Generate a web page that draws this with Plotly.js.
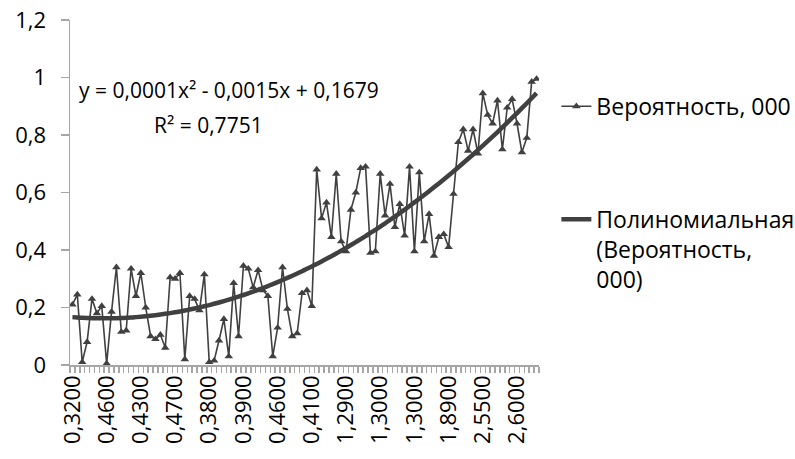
<!DOCTYPE html>
<html>
<head>
<meta charset="utf-8">
<script src="https://cdn.plot.ly/plotly-3.0.1.min.js"></script>
<style>html,body{margin:0;padding:0;background:#fff;}#chart{width:795px;height:459px;}</style>
</head>
<body>
<div id="chart"></div>
<script>
// Probability values, one per category (96 categories)
const probability = [
  0.21, 0.245, 0.01, 0.08, 0.23, 0.18, 0.205, 0.005, 0.185, 0.34,
  0.115, 0.12, 0.335, 0.24, 0.32, 0.20, 0.10, 0.09, 0.105, 0.06,
  0.305, 0.30, 0.32, 0.02, 0.24, 0.23, 0.19, 0.315, 0.01, 0.015,
  0.085, 0.16, 0.03, 0.285, 0.10, 0.345, 0.335, 0.27, 0.33, 0.26,
  0.24, 0.03, 0.13, 0.34, 0.195, 0.10, 0.11, 0.25, 0.26, 0.205,
  0.68, 0.51, 0.565, 0.445, 0.665, 0.43, 0.395, 0.54, 0.60, 0.685,
  0.69, 0.39, 0.395, 0.665, 0.52, 0.63, 0.48, 0.56, 0.45, 0.69,
  0.395, 0.67, 0.43, 0.525, 0.38, 0.445, 0.455, 0.41, 0.595, 0.775,
  0.82, 0.745, 0.82, 0.735, 0.945, 0.87, 0.84, 0.92, 0.75, 0.895,
  0.925, 0.84, 0.74, 0.79, 0.985, 0.995
];
// Category tick labels shown (every 7th category)
const tickLabels = ['0,3200','0,4600','0,4300','0,4700','0,3800','0,3900','0,4600',
                    '0,4100','1,2900','1,3000','1,3000','1,8900','2,5500','2,6000'];
const labelStep = 7;
// Polynomial trendline coefficients (c0 + c1*x + c2*x^2), x = 1..n
const trendCoef = [0.1679, -0.0015, 0.0001];
const eqText = 'y = 0,0001x² - 0,0015x + 0,1679';
const r2Text = 'R² = 0,7751';
const seriesName = 'Вероятность, 000';
const trendName = 'Полиномиальная<br>(Вероятность,<br>000)';

const xIdx = probability.map((_, i) => i);
const trendY = xIdx.map(i => { const x = i + 1; return trendCoef[0] + trendCoef[1]*x + trendCoef[2]*x*x; });
const tickVals = tickLabels.map((_, i) => i * labelStep);

const FONT = 'Open Sans, sans-serif';
const dark = '#404040';
const axisCol = '#a6a6a6';

const traces = [
  {
    x: xIdx, y: probability, type: 'scatter', mode: 'lines+markers', name: seriesName,
    line: {color: dark, width: 1.6},
    marker: {symbol: 'triangle-up', size: 7.5, color: dark},
    legendgroup: 'a'
  },
  {
    x: xIdx, y: trendY, type: 'scatter', mode: 'lines', name: trendName,
    line: {color: dark, width: 4.5, shape: 'spline'},
    legendgroup: 'b'
  }
];

const layout = {
  width: 795, height: 459,
  margin: {l: 70, r: 256, t: 20, b: 94, autoexpand: false},
  paper_bgcolor: '#fff', plot_bgcolor: '#fff',
  separators: ', ',
  font: {family: FONT, size: 22, color: '#000'},
  showlegend: true,
  legend: {
    x: 1.037, y: 0.812, xanchor: 'left', yanchor: 'top',
    font: {family: FONT, size: 23, color: '#000'},
    valign: 'top', traceorder: 'grouped', tracegroupgap: 80,
    bgcolor: 'rgba(0,0,0,0)'
  },
  xaxis: {
    range: [-0.5, probability.length - 0.5],
    tickmode: 'array', tickvals: tickVals, ticktext: tickLabels,
    tickangle: -90, ticks: '', showgrid: false, zeroline: false,
    showline: true, linecolor: axisCol, linewidth: 1.5,
    tickfont: {family: FONT, size: 22, color: '#000'},
    minor: {ticks: 'outside', tickmode: 'linear', tick0: -0.5, dtick: 1, ticklen: 6, tickcolor: axisCol, tickwidth: 1.5, showgrid: false}
  },
  yaxis: {
    range: [0, 1.2], dtick: 0.2, tick0: 0,
    ticks: 'outside', ticklen: 8, tickcolor: axisCol, tickwidth: 1.5,
    ticklabelstandoff: 10,
    showgrid: false, zeroline: false,
    showline: true, linecolor: axisCol, linewidth: 1.5,
    tickfont: {family: FONT, size: 22, color: '#000'}
  },
  annotations: [
    {xref: 'paper', yref: 'paper', x: 0.338, y: 0.797, xanchor: 'center', yanchor: 'middle',
     text: eqText, showarrow: false, font: {family: FONT, size: 21, color: '#000'}},
    {xref: 'paper', yref: 'paper', x: 0.295, y: 0.696, xanchor: 'center', yanchor: 'middle',
     text: r2Text, showarrow: false, font: {family: FONT, size: 21, color: '#000'}}
  ]
};

Plotly.newPlot('chart', traces, layout, {displayModeBar: false, staticPlot: true});
</script>
</body>
</html>
